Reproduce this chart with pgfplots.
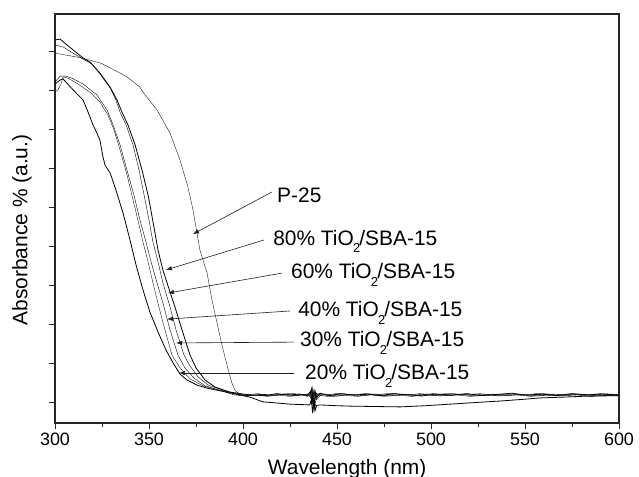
\documentclass[border=0pt]{standalone}
\usepackage{fontspec}
\setmainfont{Liberation Sans}
\usepackage{pgfplots}
\pgfplotsset{compat=1.18}
\usetikzlibrary{arrows.meta}

% sample label: "xx% TiO2/SBA-15" with the dropped subscript
\newcommand{\sample}[1]{#1\% TiO\kern-0.04em\raisebox{-0.38em}{\fontsize{13}{13}\selectfont 2}\kern-0.04em/SBA-15}

\begin{document}
\begin{tikzpicture}
\useasboundingbox (-55bp,-54bp) rectangle (584bp,423bp);
\begin{axis}[
  at={(0,0)}, anchor=south west,
  scale only axis, width=564bp, height=409bp,
  xmin=300, xmax=600, ymin=-0.513, ymax=9.974,
  xtick={300,350,...,600}, minor xtick={325,375,...,575},
  ytick={0,...,9}, yticklabels={},
  tick align=outside, xtick pos=bottom, ytick pos=left,
  major tick length=6bp, minor tick length=4bp,
  axis line style={line width=1.1pt, black!85},
  every tick/.style={line width=1pt, black!85},
  tick label style={font=\fontsize{18}{18}\selectfont},
  /pgf/number format/assume math mode=true,
  /pgf/number format/1000 sep={},
  xlabel={Wavelength (nm)}, ylabel={Absorbance \% (a.u.)},
  label style={font=\fontsize{21}{21}\selectfont},
  xlabel style={at={(axis description cs:0.518,0)}, anchor=base, yshift=-51bp},
  ylabel style={at={(axis description cs:-0.0585,0.472)}, anchor=center},
  cycle list={{black!90, line width=0.8pt, line join=round, mark=none}},
]

% P-25
\addplot coordinates {
(300,8.97)(311.7,8.87)(318.6,8.79)(324,8.72)(328.2,8.62)(334.6,8.46)(338.3,8.36)
(345.2,8.10)(346.8,7.97)(354.3,7.51)(361.2,6.92)(366.5,6.23)(370.7,5.54)(373.4,4.95)
(375.5,4.36)(377.1,3.92)(380.9,3.33)(383.5,2.64)(386.2,2.05)(388.8,1.49)(391.5,0.97)
(394.1,0.51)(395.7,0.33)(398.4,0.21)(404,0.19)(410,0.22)(416,0.20)(422,0.23)(428,0.19)
(433,0.22)(435.8,0.20)(436.7,0.33)(437.3,-0.08)(438,0.26)(438.8,0.15)(440,0.22)(446,0.19)
(453,0.23)(460,0.20)(467,0.22)(474,0.19)(481,0.23)(489,0.20)(496,0.22)(504,0.19)(512,0.23)
(520,0.20)(528,0.22)(536,0.19)(544,0.23)(552,0.20)(560,0.22)(568,0.19)(576,0.23)(584,0.20)
(592,0.22)(600,0.20)};

% 80% TiO2/SBA-15
\addplot coordinates {
(300,9.31)(302.7,9.33)(306.4,9.18)(311.7,8.97)(314.9,8.85)(318.6,8.74)(323.9,8.46)
(329.3,8.10)(333.0,7.77)(335.6,7.46)(338.8,7.13)(342.6,6.62)(346.3,5.97)(349.5,5.33)
(350.5,5.08)(352.7,4.49)(354.8,3.92)(357.4,3.41)(359.6,3.08)(363.8,2.46)(367.6,1.87)
(371.8,1.23)(375.0,0.90)(379.8,0.59)(385.1,0.41)(393.1,0.28)(400,0.23)(406,0.20)(412,0.19)
(418,0.24)(424,0.20)(430,0.23)(434,0.19)(436,0.30)(436.6,0.02)(437.2,0.36)(437.8,-0.12)
(438.5,0.28)(439.3,0.14)(441,0.25)(446,0.19)(452,0.24)(459,0.20)(466,0.23)(473,0.19)
(480,0.24)(488,0.21)(495,0.18)(503,0.23)(511,0.20)(519,0.24)(527,0.19)(535,0.22)(543,0.25)
(551,0.20)(559,0.23)(567,0.19)(575,0.24)(583,0.21)(591,0.23)(600,0.20)};

% 60% TiO2/SBA-15
\addplot coordinates {
(300,9.18)(304.3,9.13)(309.6,8.97)(316.0,8.79)(319.7,8.69)(323.9,8.44)(329.3,8.08)
(332.4,7.77)(334.6,7.46)(337.8,7.13)(341.5,6.62)(344.7,5.97)(347.9,5.21)(350.0,4.69)
(352.1,4.13)(354.8,3.62)(357.4,3.08)(361.2,2.46)(364.4,1.87)(368.6,1.23)(371.8,0.95)
(376.1,0.67)(381.4,0.46)(390.4,0.31)(397,0.23)(403,0.18)(410,0.22)(416,0.19)(422,0.23)
(428,0.18)(433,0.22)(435.5,0.17)(436.4,0.40)(437,-0.02)(437.6,0.30)(438.3,-0.18)(439,0.26)
(440.5,0.18)(444,0.23)(450,0.18)(457,0.22)(464,0.19)(471,0.23)(478,0.18)(486,0.22)(493,0.20)
(501,0.24)(509,0.19)(517,0.22)(525,0.18)(533,0.23)(541,0.19)(549,0.22)(557,0.18)(565,0.23)
(573,0.20)(581,0.22)(589,0.18)(600,0.22)};

% 40% TiO2/SBA-15
\addplot coordinates {
(300,8.23)(302.7,8.38)(305.9,8.38)(309.0,8.33)(314.9,8.18)(322.3,7.90)(327.7,7.51)
(330.9,7.13)(334.6,6.62)(338.3,5.97)(342.0,5.33)(345.2,4.69)(348.4,4.13)(351.1,3.62)
(354.3,3.08)(358.0,2.46)(361.2,1.87)(365.4,1.23)(369.1,0.90)(373.9,0.64)(379.8,0.44)
(388.8,0.31)(395,0.21)(401,0.18)(407,0.21)(413,0.17)(419,0.20)(425,0.17)(431,0.21)
(434.5,0.17)(436,0.28)(436.5,-0.05)(437.1,0.22)(437.7,-0.22)(438.4,0.20)(439.2,0.08)
(441,0.19)(447,0.16)(454,0.20)(461,0.17)(468,0.21)(475,0.17)(482,0.20)(490,0.17)(497,0.21)
(505,0.18)(513,0.21)(521,0.17)(529,0.20)(537,0.18)(545,0.21)(553,0.17)(561,0.20)(569,0.18)
(577,0.21)(585,0.17)(593,0.20)(600,0.19)};

% 30% TiO2/SBA-15
\addplot coordinates {
(300,7.97)(301.6,8.03)(303.2,8.18)(304.3,8.36)(306.9,8.33)(312.2,8.18)(318.6,7.97)
(323.9,7.72)(328.2,7.38)(331.4,7.00)(334.6,6.49)(338.3,5.85)(341.5,5.21)(344.1,4.69)
(346.8,4.13)(349.5,3.62)(352.1,3.08)(355.3,2.46)(358.5,1.87)(362.2,1.23)(366.5,0.90)
(371.8,0.62)(378.7,0.44)(388.8,0.31)(396,0.25)(402,0.21)(408,0.24)(414,0.20)(420,0.22)
(426,0.25)(432,0.20)(435,0.24)(436.2,0.12)(436.8,0.44)(437.4,0.00)(438.1,0.33)(438.8,0.10)
(440,0.24)(445,0.21)(451,0.25)(458,0.21)(465,0.24)(472,0.22)(479,0.25)(487,0.20)(494,0.24)
(502,0.21)(510,0.25)(518,0.21)(526,0.24)(534,0.20)(542,0.24)(550,0.21)(558,0.25)(566,0.21)
(574,0.23)(582,0.20)(590,0.24)(600,0.22)};

% 20% TiO2/SBA-15
\addplot coordinates {
(300,8.18)(302.7,8.28)(304.3,8.31)(309.6,8.03)(314.9,7.77)(317.6,7.46)(320.2,7.13)
(322.3,6.92)(323.9,6.74)(325.5,6.31)(326.6,6.10)(329.3,5.90)(331.9,5.54)(336.2,4.87)
(339.9,4.18)(343.1,3.54)(346.8,2.90)(350.5,2.33)(354.8,1.82)(359.0,1.36)(362.8,1.03)
(366.5,0.74)(370.2,0.59)(375.5,0.46)(380.9,0.38)(393.1,0.26)(403.7,0.15)(410.6,0.03)
(418,0.00)(425,-0.03)(431,-0.04)(435.5,-0.05)(436.4,0.10)(437.0,-0.26)(437.6,0.05)
(438.3,-0.20)(439.2,-0.06)(441,-0.05)(450,-0.07)(456.9,-0.08)(470,-0.09)(483.5,-0.10)
(497,-0.07)(510,-0.03)(523,0.01)(536.7,0.05)(548,0.09)(558,0.13)(570,0.15)(580,0.17)
(590,0.18)(600,0.19)};

% labels with arrows
\begin{scope}[every node/.style={anchor=base west, inner sep=0pt, font=\fontsize{21}{21}\selectfont},
  arr/.style={-{Latex[length=6bp,width=4.5bp]}, line width=0.6pt, black!88}]
\draw[arr] (axis cs:415.4,5.41) -- (axis cs:373.4,4.33);
\node at (axis cs:418.1,5.15) {P-25};
\draw[arr] (axis cs:411.2,4.18) -- (axis cs:359.0,3.41);
\node at (axis cs:416.0,4.05) {\sample{80}};
\draw[arr] (axis cs:420.7,3.33) -- (axis cs:360.1,2.82);
\node at (axis cs:425.5,3.18) {\sample{60}};
\draw[arr] (axis cs:425.0,2.36) -- (axis cs:359.6,2.15);
\node at (axis cs:429.3,2.21) {\sample{40}};
\draw[arr] (axis cs:427.1,1.56) -- (axis cs:364.4,1.54);
\node at (axis cs:430.3,1.44) {\sample{30}};
\draw[arr] (axis cs:427.1,0.77) -- (axis cs:365.9,0.77);
\node at (axis cs:433.0,0.59) {\sample{20}};
\end{scope}
\end{axis}
\end{tikzpicture}
\end{document}
